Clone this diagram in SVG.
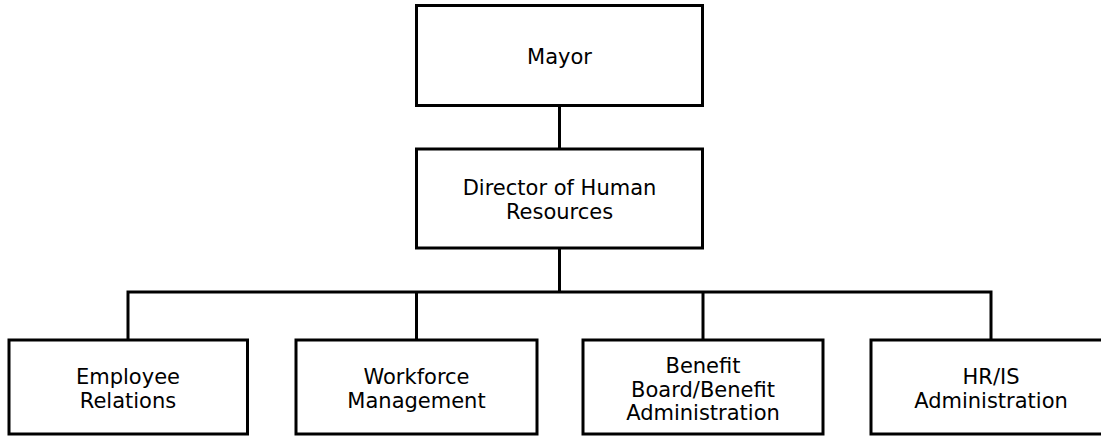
<svg xmlns="http://www.w3.org/2000/svg" width="1101" height="436" viewBox="0 0 1101 436">
<style>
.box{fill:#fff;stroke:#000;stroke-width:3}
.conn{fill:none;stroke:#000;stroke-width:3}
text{font-family:"DejaVu Sans","Verdana",sans-serif;font-size:21px;fill:#000;text-anchor:middle}
</style>
<rect width="1101" height="436" fill="#fff"/>
<g id="connectors">
<line class="conn" x1="559.5" y1="105.5" x2="559.5" y2="149"/>
<line class="conn" x1="559.5" y1="248" x2="559.5" y2="292"/>
<polyline class="conn" points="128,340 128,292 991,292 991,340"/>
<line class="conn" x1="416.5" y1="292" x2="416.5" y2="340"/>
<line class="conn" x1="703" y1="292" x2="703" y2="340"/>
</g>
<g id="mayor">
<rect class="box" x="416.5" y="5.5" width="286" height="100"/>
<text x="559.5" y="63.5">Mayor</text>
</g>
<g id="director">
<rect class="box" x="416.5" y="149" width="286" height="99"/>
<text x="559.5" y="194.5">Director of Human</text>
<text x="559.5" y="219">Resources</text>
</g>
<g id="employee-relations">
<rect class="box" x="9" y="340" width="238.5" height="94"/>
<text x="128" y="383.5">Employee</text>
<text x="128" y="407.5">Relations</text>
</g>
<g id="workforce-management">
<rect class="box" x="296" y="340" width="241" height="94"/>
<text x="416.5" y="383.5">Workforce</text>
<text x="416.5" y="407.5">Management</text>
</g>
<g id="benefit-administration">
<rect class="box" x="583" y="340" width="240" height="94"/>
<text x="703" y="373">Benefit</text>
<text x="703" y="396.5">Board/Benefit</text>
<text x="703" y="420">Administration</text>
</g>
<g id="hris-administration">
<rect class="box" x="871" y="340" width="241" height="94"/>
<text x="991" y="383.5">HR/IS</text>
<text x="991" y="407.5">Administration</text>
</g>
</svg>
